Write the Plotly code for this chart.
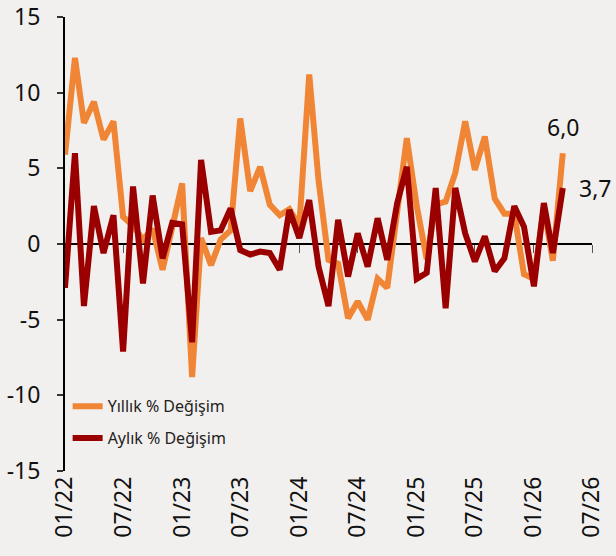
import plotly.graph_objects as go
import pandas as pd

dates = pd.date_range("2022-01-01", periods=52, freq="MS")

yillik = [5.9, 12.3, 8.0, 9.4, 6.9, 8.1, 1.8, 1.2, 0.3, 1.0,
          -1.7, 1.1, 4.0, -8.8, 0.4, -1.4, 0.3, 0.9, 8.3, 3.5,
          5.1, 2.6, 1.9, 2.3, 1.2, 11.2, 4.2, -1.05, -1.3, -4.9,
          -3.8, -5.0, -2.3, -2.9, 2.0, 7.0, 2.5, -1.0, 2.6, 2.8,
          4.7, 8.1, 4.9, 7.1, 3.0, 2.0, 2.0, -2.0, -2.3, 2.4,
          -1.1, 6.0]

aylik = [-2.9, 6.0, -4.1, 2.5, -0.6, 1.9, -7.1, 3.8, -2.6, 3.2,
         -0.95, 1.4, 1.3, -6.5, 5.55, 0.8, 0.9, 2.35, -0.4, -0.7,
         -0.5, -0.6, -1.7, 2.25, 0.4, 2.9, -1.5, -4.1, 1.6, -2.15,
         0.7, -1.5, 1.7, -1.05, 2.7, 5.1, -2.3, -1.9, 3.7, -4.25,
         3.7, 0.7, -1.15, 0.5, -1.8, -0.95, 2.5, 1.15, -2.8, 2.7,
         -0.6, 3.7]

y_ticks = [-15, -10, -5, 0, 5, 10, 15]
y_ticktext = ["-15", "-10", "-5", "0", "5", "10", "15"]

names = ["Yıllık % Değişim", "Aylık % Değişim"]
colors = ["#F08535", "#9B0000"]
x_range = ["2022-01-01", "2026-07-01"]
FONT = "Noto Sans"

fig = go.Figure()
fig.add_trace(go.Scatter(x=dates, y=yillik, mode="lines", name=names[0],
                         line=dict(color=colors[0], width=6),
                         legendgroup="a"))
fig.add_trace(go.Scatter(x=dates, y=aylik, mode="lines", name=names[1],
                         line=dict(color=colors[1], width=6),
                         legendgroup="b"))
# helper trace for the bottom label axis
fig.add_trace(go.Scatter(x=dates, y=[None] * len(dates), xaxis="x2",
                         showlegend=False, hoverinfo="skip", mode="lines"))

def lbl(v):
    return f"{v:.1f}".replace(".", ",")

fig.add_annotation(x=dates[-1], y=yillik[-1], text=lbl(yillik[-1]),
                   showarrow=False, yshift=26, xanchor="center",
                   font=dict(size=23, color="#111", family=FONT))
fig.add_annotation(x=dates[-1], y=aylik[-1], text=lbl(aylik[-1]),
                   showarrow=False, xshift=14, xanchor="left",
                   font=dict(size=23, color="#111", family=FONT))

fig.update_layout(
    width=616, height=556,
    margin=dict(l=65, r=24, t=17, b=85, autoexpand=False),
    paper_bgcolor="#F2F0EE", plot_bgcolor="#F2F0EE",
    font=dict(family=FONT, size=23, color="#111"),
    showlegend=True,
    legend=dict(x=0.005, y=0.18, xanchor="left", yanchor="top",
                bgcolor="rgba(0,0,0,0)", font=dict(size=16, color="#222"),
                traceorder="grouped", tracegroupgap=8, itemwidth=30),
    xaxis=dict(type="date", range=x_range, anchor="free", position=0.5,
               showline=True, linecolor="#000", linewidth=1.5,
               ticks="outside", ticklen=8, tickwidth=1, tickcolor="#555",
               dtick="M6", tick0="2022-01-01", showticklabels=False,
               showgrid=False, zeroline=False, layer="below traces",
               automargin=False),
    xaxis2=dict(type="date", range=x_range, overlaying="x", anchor="y",
                side="bottom", dtick="M6", tick0="2022-01-01",
                tickformat="%m/%y", tickangle=-90, showline=False,
                ticks="", showgrid=False, zeroline=False, automargin=False,
                tickfont=dict(size=23, color="#111")),
    yaxis=dict(range=[-15, 15], tickmode="array", tickvals=y_ticks,
               ticktext=y_ticktext, showline=True, linecolor="#000",
               linewidth=2, ticks="outside", ticklen=6, tickwidth=2,
               tickcolor="#333", showgrid=False, zeroline=False,
               automargin=False,
               ticklabelstandoff=12, tickfont=dict(size=23, color="#111")),
)

fig.write_html("out.html", config={"displayModeBar": False},
               post_script="document.body.style.margin='0';")
